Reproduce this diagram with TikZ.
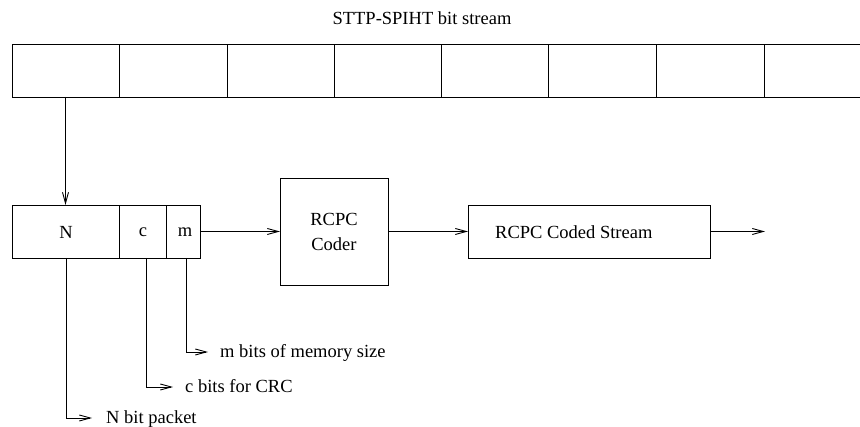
\documentclass[tikz,border=0pt]{standalone}
\usepackage{fontspec}
\setmainfont{Liberation Serif}
\newfontfamily\tms{Liberation Serif}
\usetikzlibrary{arrows.meta,positioning}
\begin{document}
\begin{tikzpicture}[x=1pt,y=-1pt,
  every node/.style={font=\tms\fontsize{18.5}{21}\selectfont},
  ln/.style={line width=0.9pt},
  box/.style={draw,ln,rectangle,inner sep=0pt,outer sep=0pt,anchor=north west},
  lbl/.style={anchor=base west,inner sep=0pt},
  arr/.style={ln,-{Straight Barb[length=11pt,width=6pt,line width=0.9pt]}}]
\useasboundingbox (0,0) rectangle (860,427);
% title
\node (title) at (422,18) {STTP-SPIHT bit stream};
% top bit stream cells
\foreach \i/\x/\w in {1/12/107,2/119/108,3/227/107,4/334/107,5/441/107,6/548/108,7/656/108}{
  \node[box,minimum width=\w,minimum height=53] (s\i) at (\x,44) {};
}
\coordinate (e8t) at (861,44);
\coordinate (e8b) at (861,97);
\draw[ln] (s7.north east) -- (e8t);
\draw[ln] (s7.south east) -- (e8b);
% packet
\node[box,minimum width=107,minimum height=53] (N) at (12,205) {};
\node[box,minimum width=47,minimum height=53] (c) at (119,205) {};
\node[box,minimum width=34,minimum height=53] (m) at (166,205) {};
\node at (66,232.5) (Nt) {N};
\node at (143,232.5) (ct) {c};
\node at (185,232.5) (mt) {m};
% coder
\node[box,minimum width=108,minimum height=107] (coder) at (280,178) {};
\node[align=center] (codert) at (coder.center) {RCPC\\[4pt]Coder};
% coded stream
\node[box,minimum width=242,minimum height=53] (cs) at (468,205) {};
\node[anchor=west,inner sep=0pt] (cst) at (495,232) {RCPC Coded Stream};
\coordinate (out) at (765,231.5);
% connectors
\draw[arr] (s1.south) -- (N.north -| s1.south);
\draw[arr] (m.east) -- (coder.west |- m.east);
\draw[arr] (coder.east |- cs.west) -- (cs.west);
\draw[arr] (cs.east) -- (out);
% leaders
\coordinate (nb) at (66,258);
\coordinate (cb) at (146,258);
\coordinate (mb) at (186,258);
\coordinate (nl) at (66,418);
\coordinate (cl) at (146,387);
\coordinate (ml) at (186,352);
\coordinate (na) at (92,418);
\coordinate (ca) at (173,387);
\coordinate (ma) at (208,352);
\draw[arr] (nb) -- (nl) -- (na);
\draw[arr] (cb) -- (cl) -- (ca);
\draw[arr] (mb) -- (ml) -- (ma);
\node[lbl] (nlab) at (106,424) {N bit packet};
\node[lbl] (clab) at (185,393) {c bits for CRC};
\node[lbl] (mlab) at (220,358) {m bits of memory size};
\end{tikzpicture}
\end{document}
